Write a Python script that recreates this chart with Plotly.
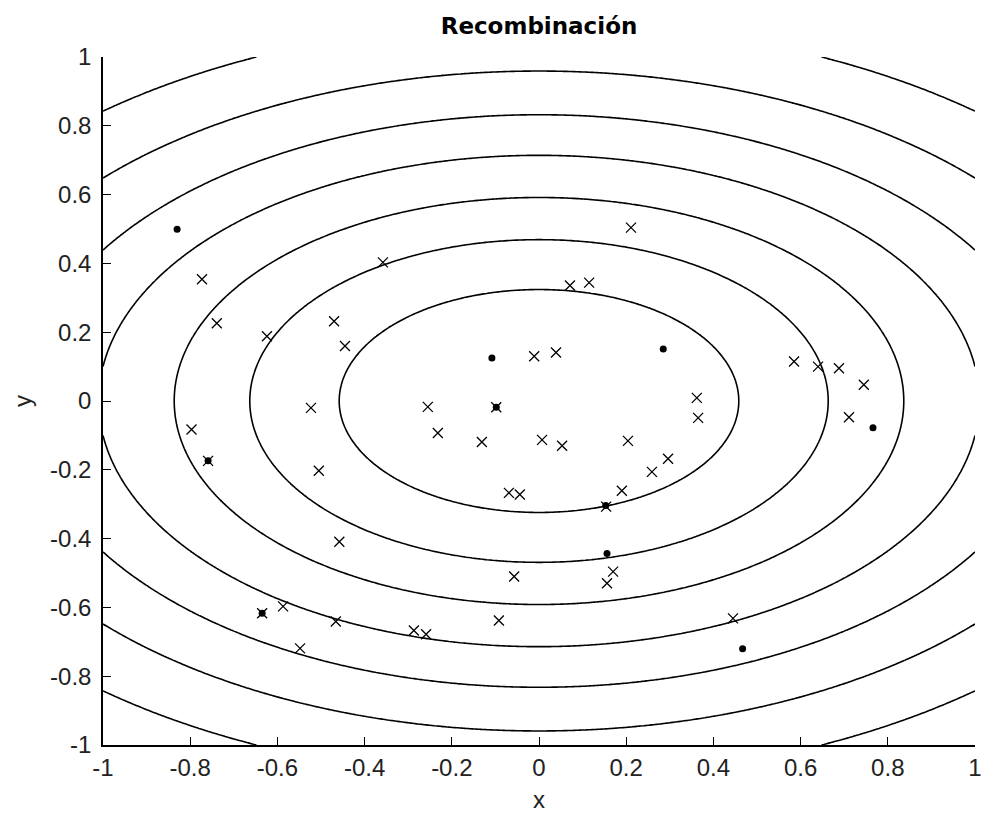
import numpy as np
import plotly.graph_objects as go

# Contour levels of f(x, y) = x^2 + 2*y^2
LEVELS = [0.21, 0.44, 0.70, 1.02, 1.385, 1.84, 2.42]

# Parent points (dots)
parent_x = [-0.83, -0.759, -0.635, -0.108, -0.098, 0.285, 0.153, 0.156, 0.766, 0.467]
parent_y = [0.499, -0.174, -0.617, 0.125, -0.018, 0.151, -0.304, -0.443, -0.078, -0.72]

# Offspring points (x markers)
child_x = [-0.773, -0.739, -0.624, -0.358, -0.47, -0.445, -0.523, -0.255, -0.797, -0.232,
           -0.131, -0.505, -0.458, -0.587, -0.466, -0.287, -0.259, -0.548, 0.362, 0.365,
           0.007, 0.053, 0.204, 0.296, 0.259, 0.19, -0.069, -0.044, 0.154, -0.057,
           0.17, 0.156, -0.092, 0.445, 0.211, 0.071, 0.115, -0.011, 0.039, 0.585,
           0.64, 0.688, 0.745, 0.711, -0.759, -0.098, -0.635]
child_y = [0.354, 0.226, 0.188, 0.403, 0.232, 0.16, -0.02, -0.017, -0.083, -0.093,
           -0.119, -0.203, -0.409, -0.597, -0.641, -0.667, -0.678, -0.719, 0.009, -0.049,
           -0.113, -0.13, -0.116, -0.168, -0.206, -0.261, -0.267, -0.272, -0.307, -0.51,
           -0.496, -0.53, -0.638, -0.632, 0.504, 0.336, 0.344, 0.13, 0.141, 0.115,
           0.10, 0.095, 0.047, -0.047, -0.174, -0.018, -0.617]

TICKS = [-1, -0.8, -0.6, -0.4, -0.2, 0, 0.2, 0.4, 0.6, 0.8, 1]
TICK_TEXT = ["-1", "-0.8", "-0.6", "-0.4", "-0.2", "0", "0.2", "0.4", "0.6", "0.8", "1"]

gx = np.linspace(-1, 1, 301)
gy = np.linspace(-1, 1, 301)
X, Y = np.meshgrid(gx, gy)
Z = X ** 2 + 2 * Y ** 2

fig = go.Figure()
for lv in LEVELS:
    fig.add_trace(go.Contour(
        x=gx, y=gy, z=Z,
        contours=dict(start=lv, end=lv, size=1, coloring="lines"),
        colorscale=[[0, "black"], [1, "black"]],
        line=dict(width=1.6, color="black"),
        showscale=False, hoverinfo="skip",
    ))

fig.add_trace(go.Scatter(
    x=child_x, y=child_y, mode="markers",
    marker=dict(symbol="x-thin", size=10, line=dict(width=1.3, color="black"), color="black"),
    showlegend=False,
))
fig.add_trace(go.Scatter(
    x=parent_x, y=parent_y, mode="markers",
    marker=dict(symbol="circle", size=7, color="black"),
    showlegend=False,
))

axis_common = dict(
    range=[-1, 1], showgrid=False, zeroline=False,
    showline=True, linecolor="black", linewidth=1.5, mirror=False,
    ticks="inside", ticklen=8, tickcolor="black", tickwidth=1.3,
    tickvals=TICKS, ticktext=TICK_TEXT, ticklabeloverflow="allow",
    tickfont=dict(family="Liberation Sans, Arial, sans-serif", size=24, color="#222"),
)

fig.update_layout(
    width=981, height=813,
    margin=dict(l=103, r=6, t=57, b=68),
    paper_bgcolor="white", plot_bgcolor="white",
    showlegend=False,
    title=dict(text="<b>Recombinación</b>", x=0.5, xref="paper",
               y=1 - 26 / 813, yref="container", yanchor="middle",
               font=dict(family="DejaVu Sans, sans-serif", size=23, color="black")),
    xaxis=dict(**axis_common,
               title=dict(text="x", standoff=12,
                          font=dict(family="Liberation Sans, Arial, sans-serif", size=24, color="#222"))),
    yaxis=dict(**axis_common, ticklabelstandoff=5,
               title=dict(text="y", standoff=12,
                          font=dict(family="Liberation Sans, Arial, sans-serif", size=24, color="#222"))),
)
fig.update_xaxes(automargin=False)
fig.update_yaxes(automargin=False)

fig.write_html("out.html")
